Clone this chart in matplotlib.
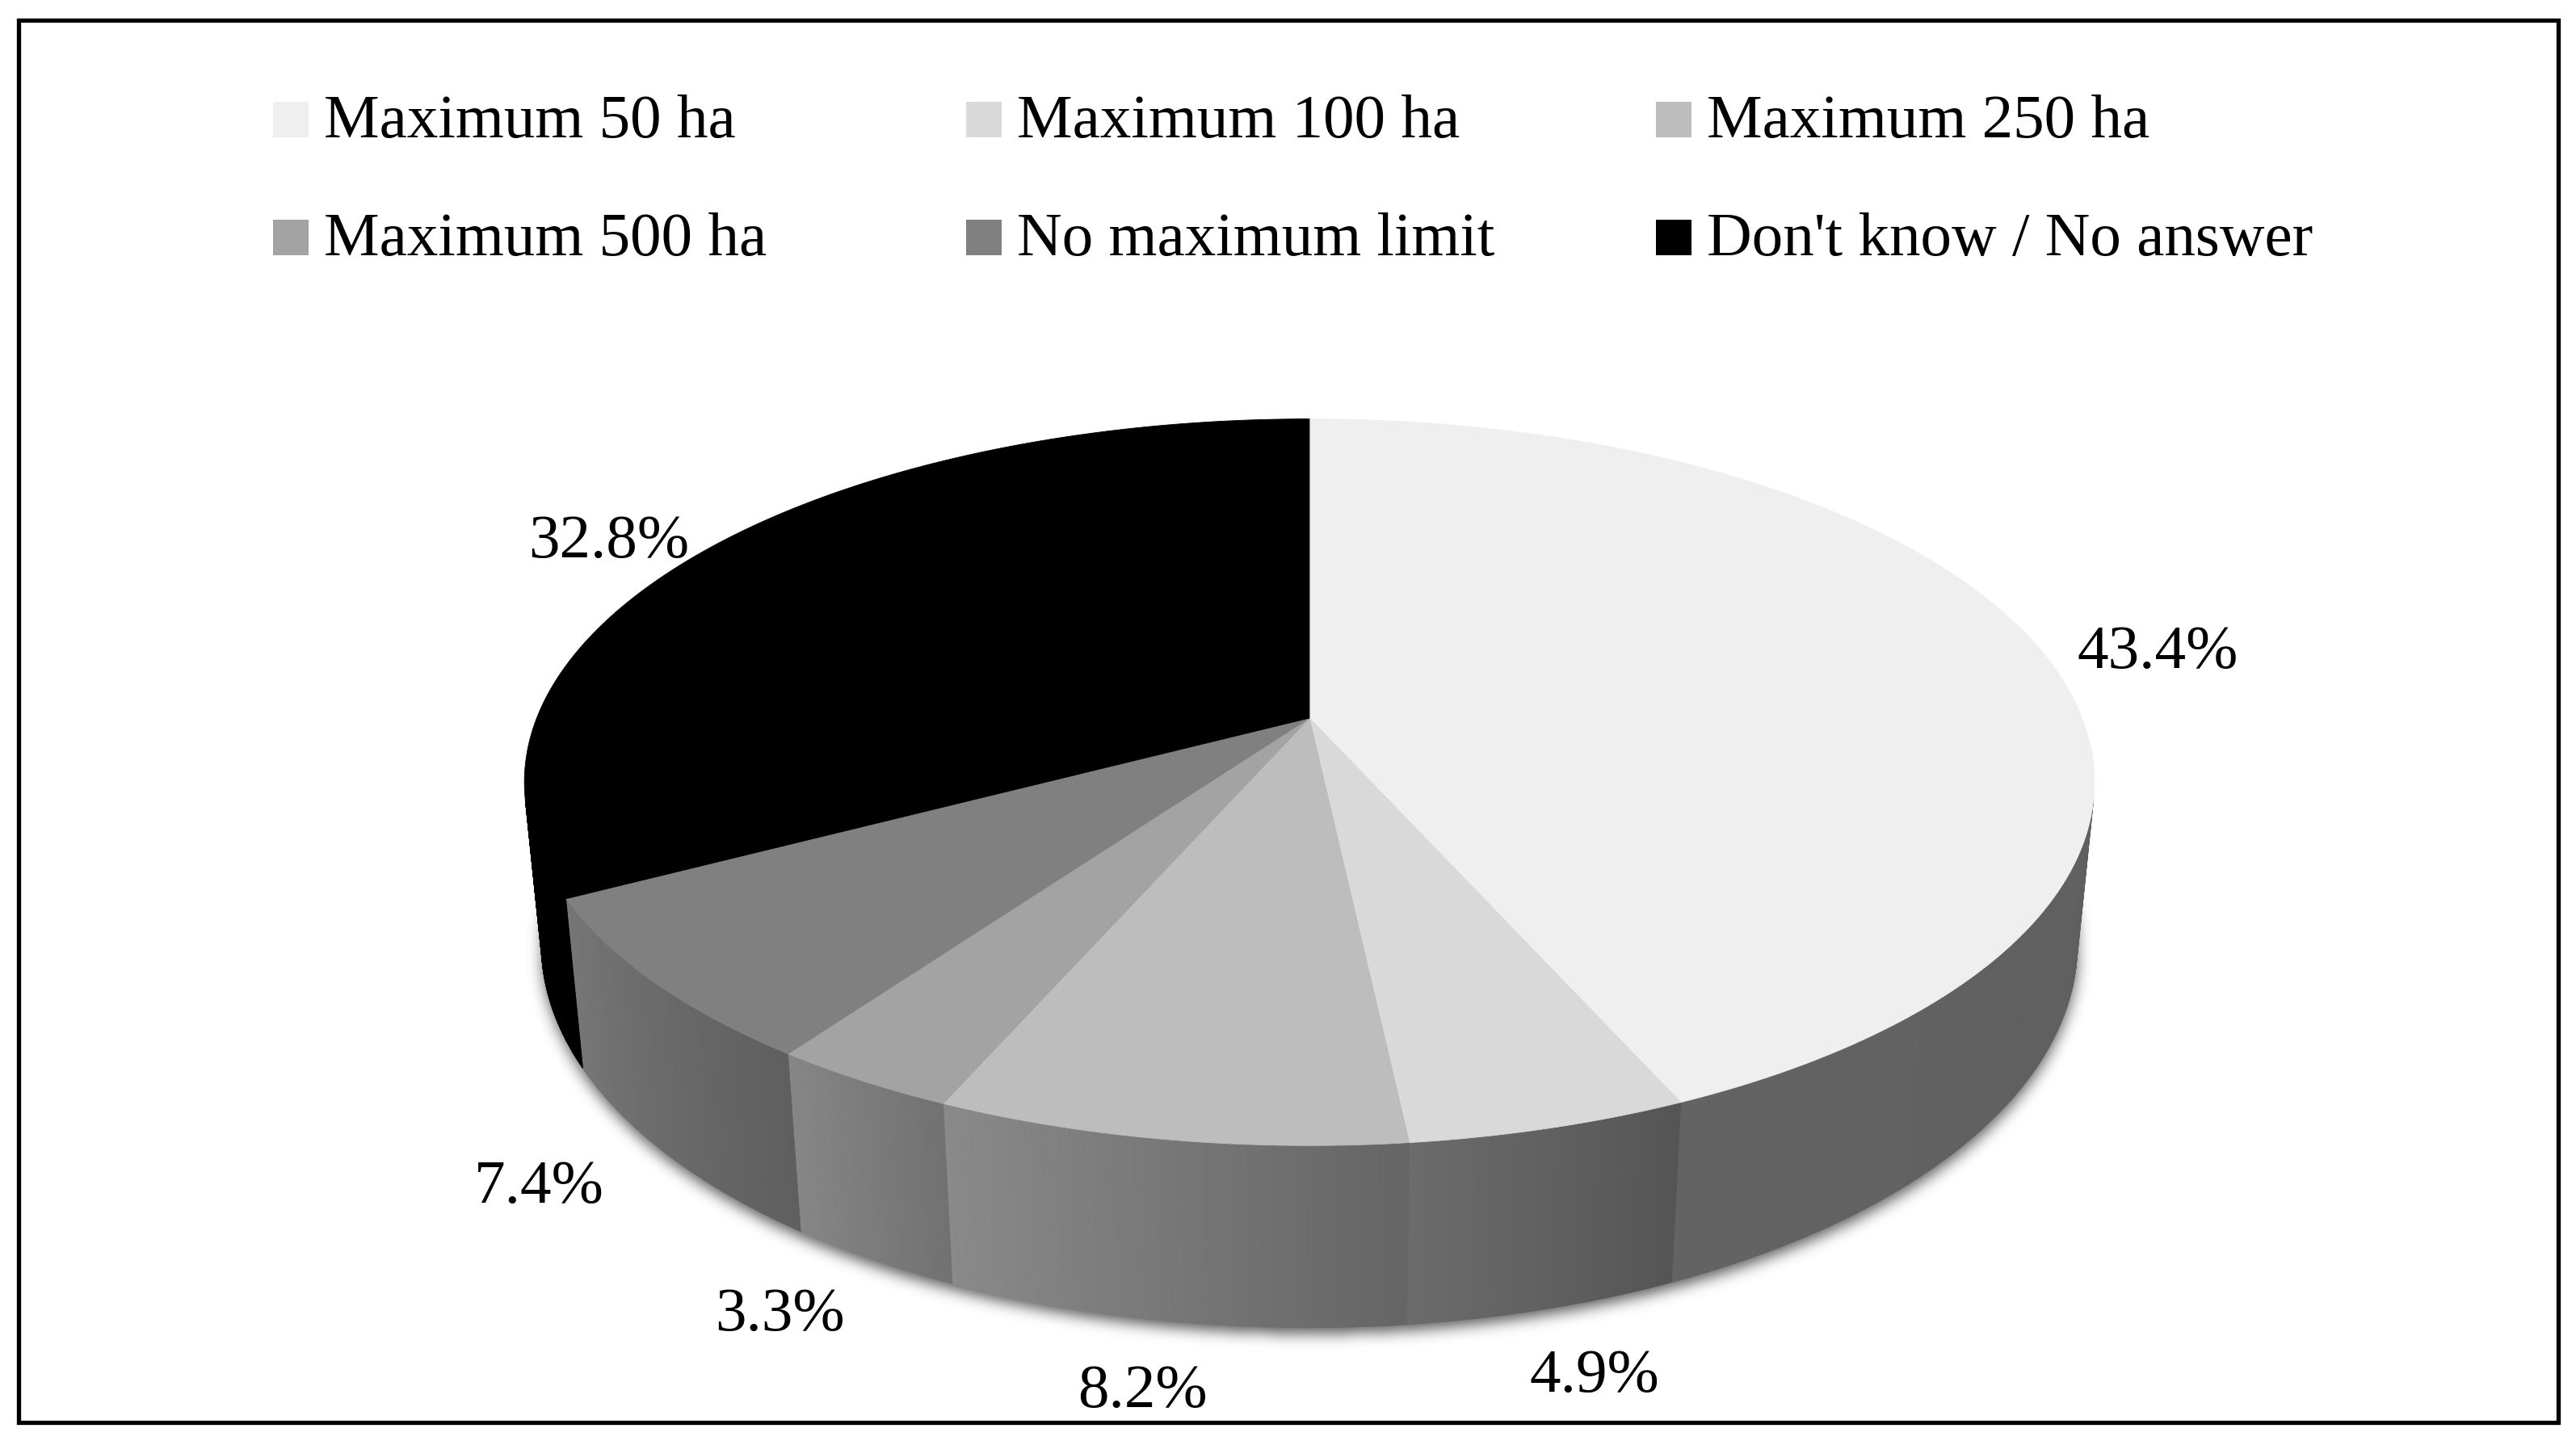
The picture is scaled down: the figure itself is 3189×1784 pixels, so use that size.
import numpy as np
import matplotlib.pyplot as plt
from matplotlib.patches import Polygon, Rectangle
from matplotlib.path import Path

# ----------- data -----------
categories = ["Maximum 50 ha", "Maximum 100 ha", "Maximum 250 ha",
              "Maximum 500 ha", "No maximum limit", "Don't know / No answer"]
shares = [43.4, 4.9, 8.2, 3.3, 7.4, 32.8]

top_colors = ["#efefef", "#d9d9d9", "#bdbdbd", "#a3a3a3", "#808080", "#000000"]
# side wall gradient (left -> right) for each slice
side_colors = [("#636363", "#5f5f5f"), ("#6c6c6c", "#555555"), ("#8a8a8a", "#656565"),
               ("#878787", "#727272"), ("#777777", "#5f5f5f"), ("#000000", "#000000")]

# ----------- figure / 3d projection settings -----------
W, H = 3189, 1784
CX, CY = 1621, 889
FOCAL = 4821
DIST = 5.04
TILT = np.radians(27.1)
DEPTH = 0.237
FONT = "Liberation Serif"
FSIZE = 55.5


def project(X, Y, Z):
    s, c = np.sin(TILT), np.cos(TILT)
    yc = Y * s + Z * c
    d = DIST + Y * c - Z * s
    return CX + FOCAL * X / d, CY - FOCAL * yc / d


def hex2rgb(h):
    return np.array([int(h[i:i + 2], 16) for i in (1, 3, 5)]) / 255.0


fig = plt.figure(figsize=(W / 100, H / 100), dpi=100)
ax = fig.add_axes([0, 0, 1, 1])
ax.set_axis_off()

fr = np.array(shares) / sum(shares)
edges = 90 - 360 * np.concatenate([[0], np.cumsum(fr)])

# soft shadow under the pie
th = np.radians(np.linspace(0, 360, 400))
bx, by = project(np.cos(th), np.sin(th), -DEPTH)
by = by + 6
x0, x1 = int(bx.min()) - 60, int(bx.max()) + 60
y0, y1 = int(by.min()) - 60, int(by.max()) + 60
gx, gy = np.meshgrid(np.arange(x0, x1, 2), np.arange(y0, y1, 2))
mask = Path(np.column_stack([bx, by])).contains_points(
    np.column_stack([gx.ravel(), gy.ravel()])).reshape(gx.shape).astype(float)
k = np.exp(-0.5 * (np.arange(-14, 15) / 4.5) ** 2)
k /= k.sum()
mask = np.apply_along_axis(lambda r: np.convolve(r, k, mode="same"), 1, mask)
mask = np.apply_along_axis(lambda r: np.convolve(r, k, mode="same"), 0, mask)
rgba = np.zeros(mask.shape + (4,))
rgba[..., 3] = mask * 0.65
ax.imshow(rgba, extent=(x0, x1, y1, y0), zorder=1, interpolation="bilinear")

# visible part of the side wall
alpha = np.degrees(np.arcsin(1 / (DIST * np.cos(TILT))))
vis_lo, vis_hi = -180 + alpha, -alpha

for i in range(len(shares)):
    e0, e1 = edges[i], edges[i + 1]
    lo, hi = max(e1, vis_lo), min(e0, vis_hi)
    if lo >= hi:
        continue
    c_left, c_right = hex2rgb(side_colors[i][0]), hex2rgb(side_colors[i][1])
    n = 80
    angs = np.linspace(lo, hi, n + 1)
    for j in range(n):
        a = np.radians(angs[j:j + 2])
        tx, ty = project(np.cos(a), np.sin(a), 0)
        wx, wy = project(np.cos(a), np.sin(a), -DEPTH)
        col = c_left + (c_right - c_left) * (j + 0.5) / n
        ax.add_patch(Polygon(np.column_stack([np.r_[tx, wx[::-1]], np.r_[ty, wy[::-1]]]),
                             closed=True, facecolor=col, edgecolor=col, lw=0.6, zorder=2))

# top faces
for i in range(len(shares)):
    a = np.radians(np.linspace(edges[i], edges[i + 1], 200))
    tx, ty = project(np.cos(a), np.sin(a), 0)
    px, py = project(0, 0, 0)
    ax.add_patch(Polygon(np.column_stack([np.r_[px, tx], np.r_[py, ty]]), closed=True,
                         facecolor=top_colors[i], edgecolor=top_colors[i], lw=0.6, zorder=3))

# percentage labels
for i, v in enumerate(shares):
    mid = np.radians((edges[i] + edges[i + 1]) / 2)
    z = -0.78 * DEPTH if np.sin(mid) < 0 else 0
    lx, ly = project(1.17 * np.cos(mid), 1.17 * np.sin(mid), z)
    ax.text(lx, ly + 20, f"{v:.1f}%", fontsize=FSIZE, family=FONT,
            ha="center", va="center", zorder=5)

# legend
leg_x = [338, 1196, 2050]
leg_base = [170, 316]
for i, name in enumerate(categories):
    col, row = i % 3, i // 3
    ax.add_patch(Rectangle((leg_x[col], leg_base[row] - 44), 44, 44,
                           facecolor=top_colors[i], edgecolor="none", zorder=4))
    ax.text(leg_x[col] + 63, leg_base[row], name, fontsize=FSIZE, family=FONT,
            ha="left", va="baseline", zorder=4)

# outer frame
ax.add_patch(Rectangle((23, 25), 3144, 1736, fill=False, edgecolor="black", lw=3.8, zorder=6))

ax.set_xlim(0, W)
ax.set_ylim(H, 0)
ax.set_aspect("auto")
fig.savefig("out.png", dpi=100, facecolor="white")
